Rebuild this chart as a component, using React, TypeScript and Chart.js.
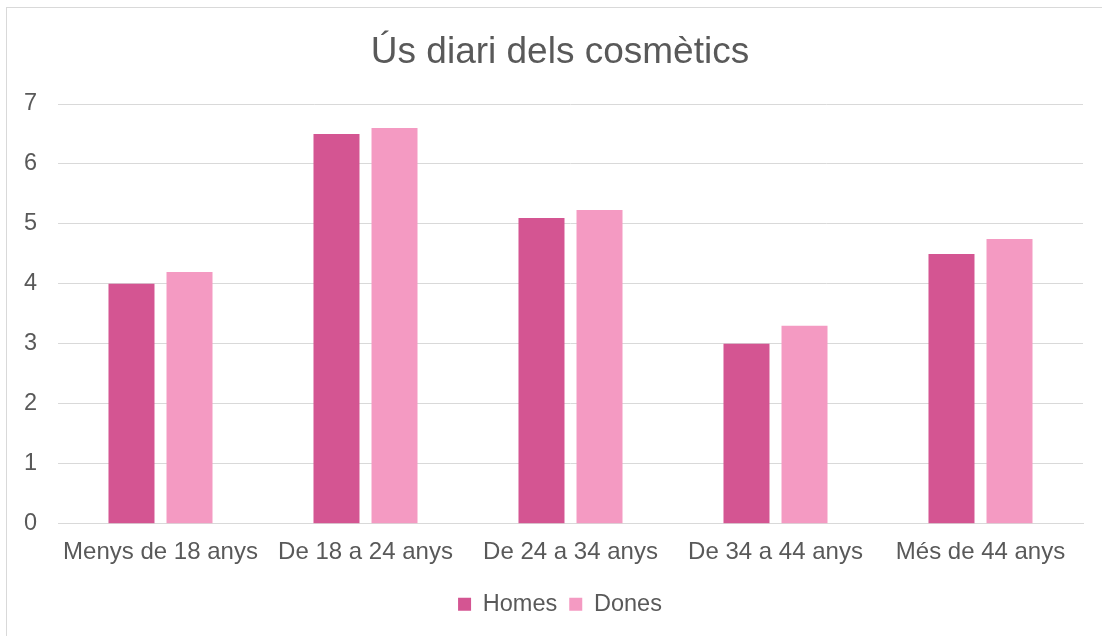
import React, { useEffect, useRef } from "react";
import { Chart, registerables } from "chart.js";

Chart.register(...registerables);

const TITLE = "Ús diari dels cosmètics";
const CATEGORIES = [
  "Menys de 18 anys",
  "De 18 a 24 anys",
  "De 24 a 34 anys",
  "De 34 a 44 anys",
  "Més de 44 anys",
];
const HOMES = [4.0, 6.5, 5.1, 3.0, 4.5];
const DONES = [4.2, 6.6, 5.23, 3.3, 4.75];
const Y_MIN = 0;
const Y_MAX = 7;
const Y_STEP = 1;

const TEXT = "#595959";
const GRID = "#d9d9d9";
const FONT = "'Liberation Sans', Arial, sans-serif";

const yLabelArea = {
  id: "yLabelArea",
  afterLayout(chart: any) {
    const y = chart.scales.y;
    if (y) y.left = 0;
  },
};

export default function App() {
  const ref = useRef<HTMLCanvasElement | null>(null);

  useEffect(() => {
    if (!ref.current) return;
    const chart = new Chart(ref.current, {
      type: "bar",
      data: {
        labels: CATEGORIES,
        datasets: [
          {
            label: "Homes",
            data: HOMES,
            backgroundColor: "#D45592",
            categoryPercentage: 0.566,
            barPercentage: 0.793,
          },
          {
            label: "Dones",
            data: DONES,
            backgroundColor: "#F49AC2",
            categoryPercentage: 0.566,
            barPercentage: 0.793,
          },
        ],
      },
      plugins: [yLabelArea],
      options: {
        animation: false,
        responsive: true,
        maintainAspectRatio: false,
        layout: { padding: { left: 30, right: 28, top: 0, bottom: 12 } },
        plugins: {
          title: {
            display: true,
            text: TITLE,
            color: TEXT,
            font: { family: FONT, size: 37, weight: "normal", lineHeight: 1.2 },
            padding: { top: 23, bottom: 28.6 },
          },
          legend: {
            position: "bottom",
            labels: {
              color: TEXT,
              font: { family: FONT, size: 23.5 },
              boxWidth: 13,
              boxHeight: 13,
              padding: 12,
            },
          },
          tooltip: { enabled: false },
        },
        scales: {
          x: {
            grid: { display: false, drawTicks: false },
            border: { display: true, color: GRID, width: 1 },
            ticks: {
              color: TEXT,
              font: { family: FONT, size: 24 },
              padding: 14,
              maxRotation: 0,
              autoSkip: false,
            },
            afterFit: (s: any) => {
              s.paddingLeft = 0;
              s.paddingRight = 0;
            },
          },
          y: {
            min: Y_MIN,
            max: Y_MAX,
            grid: { color: GRID, drawTicks: false },
            border: { display: false },
            ticks: {
              stepSize: Y_STEP,
              color: TEXT,
              font: { family: FONT, size: 23.5 },
              padding: 21,
            },
            afterFit: (s: any) => {
              s.width = 21;
            },
          },
        },
      },
    });
    return () => chart.destroy();
  }, []);

  return (
    <div
      style={{
        position: "absolute",
        left: 6,
        top: 7,
        width: 1125,
        height: 660,
        border: "1px solid #d9d9d9",
        boxSizing: "border-box",
        background: "#fff",
      }}
    >
      <div style={{ position: "relative", width: 1104, height: 630 }}>
        <canvas ref={ref} />
      </div>
    </div>
  );
}
